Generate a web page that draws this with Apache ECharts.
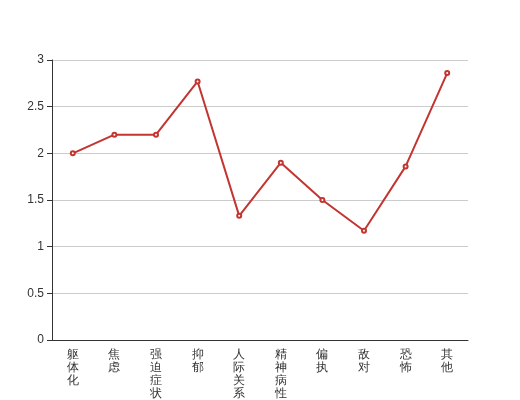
<!DOCTYPE html>
<html><head><meta charset="utf-8">
<script src="https://cdn.jsdelivr.net/npm/echarts@6/dist/echarts.min.js"></script>
<style>html,body{margin:0;padding:0;background:#fff}#c{width:520px;height:400px}</style>
</head><body><div id="c"></div>
<script>
var categories = ['躯体化','焦虑','强迫症状','抑郁','人际关系敏感','精神病性','偏执','敌对','恐怖','其他'];
var values = [2.0, 2.2, 2.2, 2.77, 1.33, 1.9, 1.5, 1.17, 1.86, 2.86];
var chart = echarts.init(document.getElementById('c'), null, {renderer:'canvas'});
chart.setOption({
  animation:false,
  grid:{left:52,right:52,top:60,bottom:60,containLabel:false,outerBoundsMode:'none'},
  xAxis:{type:'category',data:categories,boundaryGap:true,
    axisLine:{lineStyle:{color:'#333'}},axisTick:{lineStyle:{color:'#333'}},
    axisLabel:{interval:0,color:'#333',fontSize:12,lineHeight:13,margin:8,hideOverlap:false,
      formatter:function(v){return v.split('').join('\n');}}},
  yAxis:{type:'value',min:0,max:3,interval:0.5,
    axisLine:{show:true,lineStyle:{color:'#333'}},axisTick:{show:true,lineStyle:{color:'#333'}},
    axisLabel:{color:'#333',fontSize:12},
    splitLine:{lineStyle:{color:'#ccc'}}},
  series:[{type:'line',data:values,symbol:'emptyCircle',symbolSize:4,
    itemStyle:{color:'#c23531'},lineStyle:{color:'#c23531',width:2}}]
});
</script></body></html>
